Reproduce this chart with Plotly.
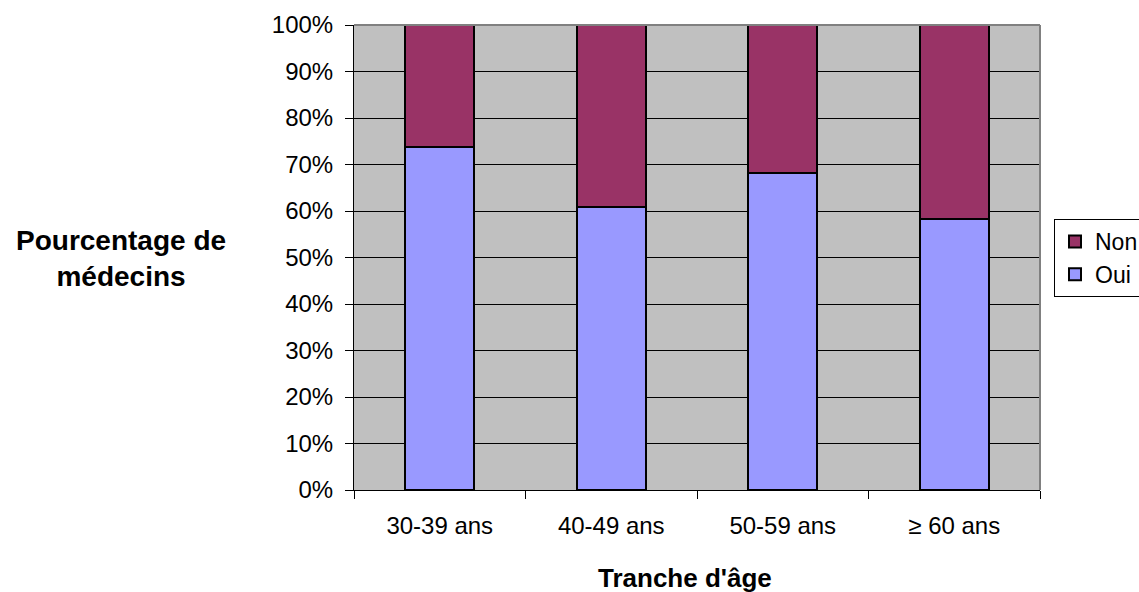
import plotly.graph_objects as go

# Répartition des médecins par tranche d'âge (en %)
categories = ["30-39 ans", "40-49 ans", "50-59 ans", "≥ 60 ans"]
oui = [73.7, 60.9, 68.1, 58.3]
non = [26.3, 39.1, 31.9, 41.7]
y_ticks = list(range(0, 101, 10))
y_tick_labels = [f"{v}%" for v in y_ticks]

FONT = "Liberation Sans, Arial, sans-serif"

fig = go.Figure()
fig.add_trace(go.Bar(
    x=categories, y=oui, name="Oui",
    marker=dict(color="#9999FF", line=dict(color="black", width=2)),
    width=0.4,
))
fig.add_trace(go.Bar(
    x=categories, y=non, name="Non",
    marker=dict(color="#993366", line=dict(color="black", width=2)),
    width=0.4,
))

fig.update_layout(
    barmode="stack",
    width=1139, height=592,
    margin=dict(l=354, r=99, t=25, b=102, autoexpand=False),
    paper_bgcolor="white",
    plot_bgcolor="#C0C0C0",
    font=dict(family=FONT, size=24, color="black"),
    showlegend=True,
    legend=dict(
        xref="container", yref="container",
        x=1054 / 1139, y=1 - 258 / 592, xanchor="left", yanchor="middle",
        traceorder="reversed",
        bgcolor="white", bordercolor="black", borderwidth=1,
        font=dict(size=23),
        itemsizing="constant",
    ),
    xaxis=dict(
        type="category",
        tickson="boundaries",
        ticks="outside", ticklen=8, tickcolor="black", tickwidth=1,
        showline=True, linecolor="black", linewidth=1,
        showgrid=False,
        tickfont=dict(size=24),
        ticklabelstandoff=14,
    ),
    yaxis=dict(
        range=[0, 100],
        tickvals=y_ticks,
        ticktext=y_tick_labels,
        ticks="outside", ticklen=8, tickcolor="black", tickwidth=1,
        showline=True, linecolor="black", linewidth=1,
        showgrid=True, gridcolor="black", gridwidth=1,
        zeroline=False,
        tickfont=dict(size=24),
        ticklabelstandoff=7,
    ),
    annotations=[
        dict(text="<b>Pourcentage de<br>médecins</b>",
             xref="paper", yref="paper",
             x=(121 - 354) / 686, y=(490 - 258) / 465,
             xanchor="center", yanchor="middle",
             showarrow=False, align="center",
             font=dict(size=28, family=FONT)),
        dict(text="<b>Tranche d'âge</b>",
             xref="paper", yref="paper",
             x=(685 - 354) / 686, y=(490 - 578) / 465,
             xanchor="center", yanchor="middle",
             showarrow=False,
             font=dict(size=26, family=FONT)),
    ],
    shapes=[
        # gray frame on the top and right of the plot area
        dict(type="line", xref="paper", yref="paper", x0=0, x1=1, y0=1, y1=1,
             line=dict(color="#808080", width=2)),
        dict(type="line", xref="paper", yref="paper", x0=1, x1=1, y0=0, y1=1,
             line=dict(color="#808080", width=2)),
    ],
)

fig.write_html("out.html")
